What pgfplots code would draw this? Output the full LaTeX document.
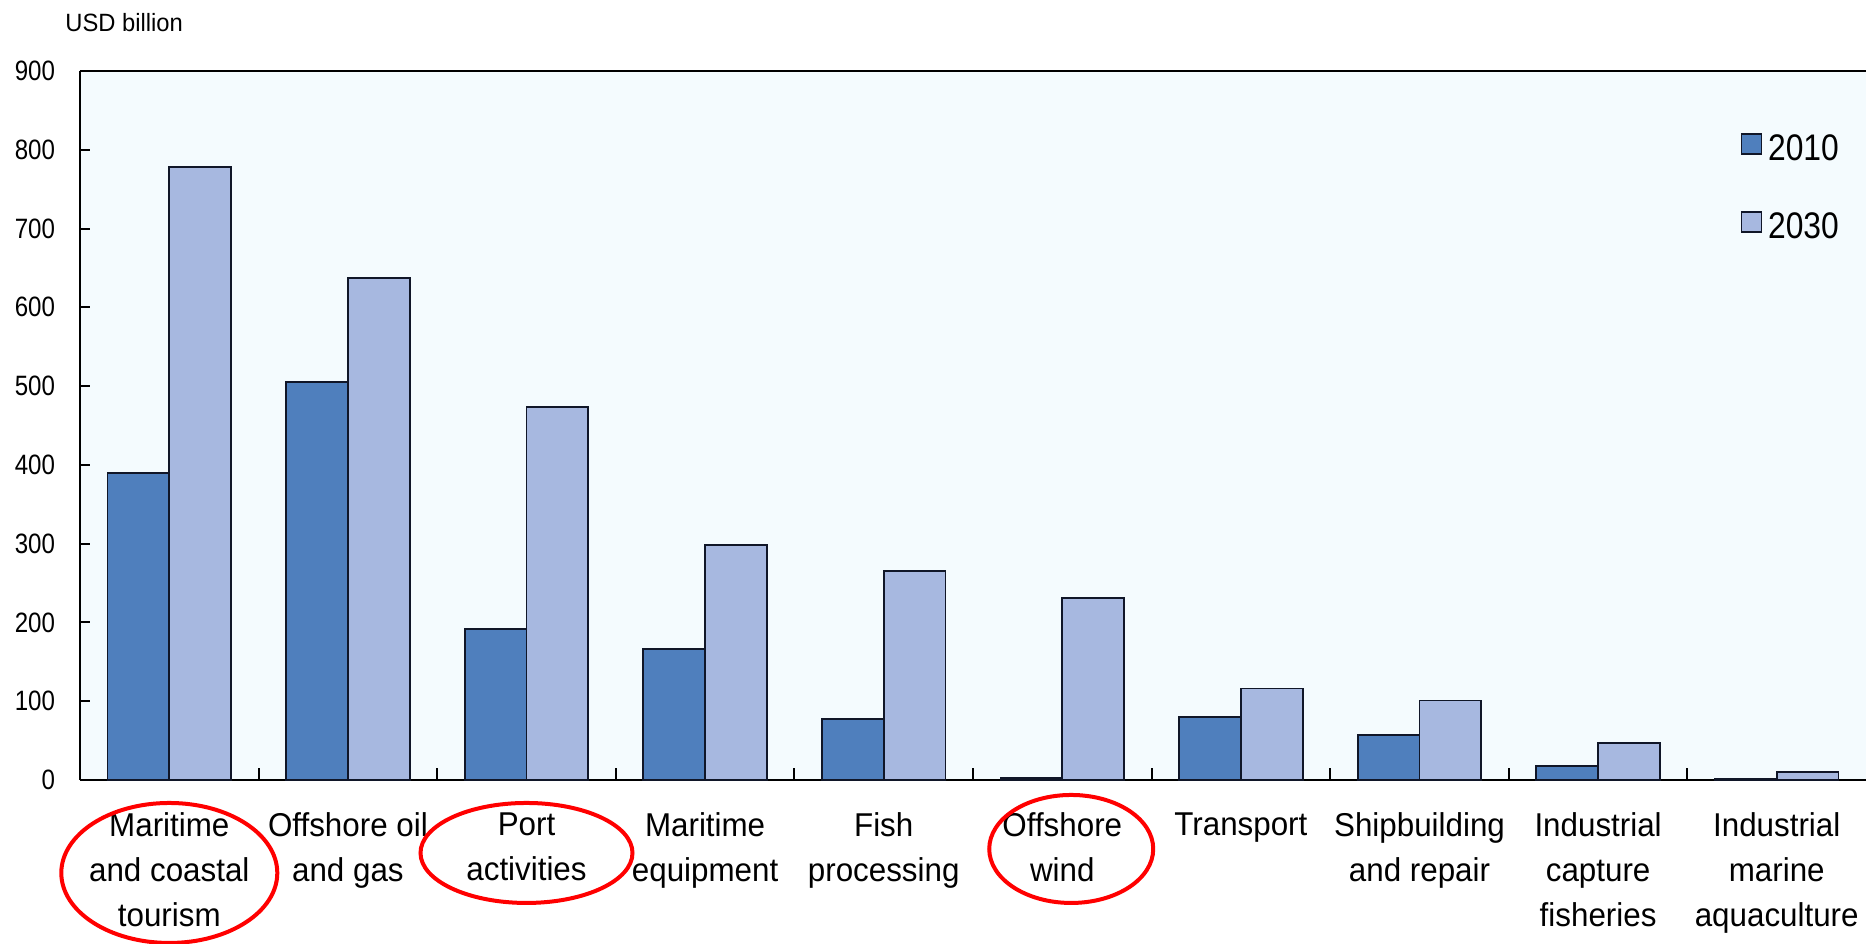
\documentclass[border=0pt]{standalone}
\usepackage{fontspec}
\setmainfont{Liberation Sans}[FakeStretch=0.95]
\newfontfamily\narrowfont{Liberation Sans}[FakeStretch=0.86]
\usepackage{pgfplots}
\pgfplotsset{compat=1.18}
\usetikzlibrary{calc}

\definecolor{bgcol}{RGB}{244,251,254}
\definecolor{bar10}{RGB}{79,127,189}
\definecolor{bar30}{RGB}{167,184,224}
\definecolor{edge}{RGB}{16,22,40}

\begin{document}
\begin{tikzpicture}
\begin{axis}[
    name=ax,
    scale only axis,
    width=893pt, height=354.5pt,
    xmin=-0.5, xmax=9.5,
    ymin=0, ymax=900,
    clip=false,
    axis background/.style={fill=bgcol},
    axis x line*=box, axis y line*=left,
    axis line style={line width=1pt, black},
    tick align=inside,
    xtick pos=bottom, ytick pos=left,
    ytick={0,100,...,900},
    xtick={0,...,9},
    xticklabels={Maritime\\and coastal\\tourism, Offshore oil\\and gas, Port\\activities, Maritime\\equipment, Fish\\processing, Offshore\\wind, Transport, Shipbuilding\\and repair, Industrial\\capture\\fisheries, Industrial\\marine\\aquaculture},
    major x tick style={draw=none},
    minor xtick={0.5,1.5,...,8.5},
    minor x tick style={line width=1pt, black},
    minor tick length=6pt,
    major tick length=5pt,
    y tick style={line width=1pt, black},
    /pgf/number format/assume math mode=true,
    yticklabel style={font=\narrowfont\fontsize{14}{16}\selectfont, xshift=-9pt},
    xticklabel style={font=\fontsize{16.5}{22.3}\selectfont, align=center, anchor=north, yshift=-13pt},
    legend style={at={(rel axis cs:0.9295,0.913)}, anchor=north west, draw=none, fill=none,
        inner sep=0pt, nodes={inner sep=0pt}, row sep=24pt, column sep=3pt,
        font=\narrowfont\fontsize{18.5}{21}\selectfont},
    legend cell align=left,
    legend image code/.code={\draw[#1, /tikz/.cd, line width=0.8pt] (0pt,-2.5pt) rectangle (10pt,7.5pt);},
]
\addplot[ybar, bar width=0.346, bar shift=-0.173, fill=bar10, draw=edge, line width=0.9pt]
    coordinates {(0,390) (1,505) (2,192) (3,166) (4,77) (5,2) (6,80) (7,57) (8,18) (9,1.5)};
\addplot[ybar, bar width=0.346, bar shift=0.173, fill=bar30, draw=edge, line width=0.9pt]
    coordinates {(0,778) (1,637) (2,473) (3,298) (4,265) (5,231) (6,116) (7,101) (8,47) (9,10)};
\legend{2010, 2030}

\node[anchor=base west, inner sep=0pt, font=\fontsize{12.5}{14}\selectfont]
    at ([xshift=-7.5pt, yshift=19.5pt]rel axis cs:0,1) {USD billion};

% red highlight circles around three labels
\draw[red, line width=2pt] ([yshift=-46.5pt]axis cs:0,0) ellipse [x radius=54pt, y radius=35pt];
\draw[red, line width=2pt] ([yshift=-36.5pt]axis cs:2,0) ellipse [x radius=53pt, y radius=25pt];
\draw[red, line width=2pt] ([yshift=-34.5pt]axis cs:5.05,0) ellipse [x radius=41pt, y radius=27pt];
\end{axis}
\pgfresetboundingbox
\path[use as bounding box] ($(ax.south west)+(-40pt,-82pt)$) rectangle ($(ax.north east)+(0pt,35.5pt)$);
\end{tikzpicture}
\end{document}
